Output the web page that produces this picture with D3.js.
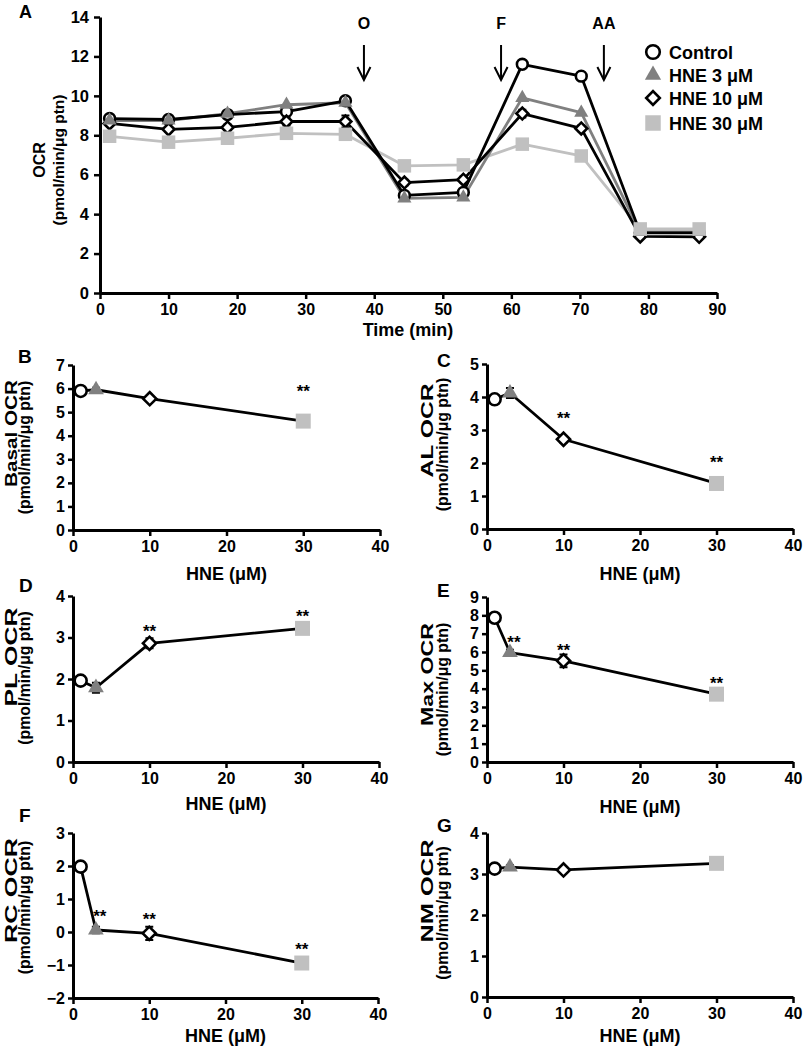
<!DOCTYPE html>
<html><head><meta charset="utf-8">
<script src="https://cdn.jsdelivr.net/npm/d3@7"></script>
<style>body{margin:0;background:#fff}</style>
</head><body>
<script>
// ---------- DATA ----------
const timeMin   = [1.4, 10.0, 18.6, 27.2, 35.8, 44.4, 53.0, 61.6, 70.2, 78.8, 87.4];
const ctrlOCR   = [8.85, 8.8, 9.05, 9.2, 9.75, 4.95, 5.1, 11.6, 11.0, 3.05, 3.05];
const hne3OCR   = [8.75, 8.75, 9.1, 9.55, 9.65, 4.8, 4.85, 9.9, 9.15, 3.1, 3.1];
const hne10OCR  = [8.6, 8.3, 8.4, 8.7, 8.7, 5.6, 5.75, 9.1, 8.35, 2.87, 2.85];
const hne30OCR  = [7.95, 7.65, 7.85, 8.1, 8.05, 6.45, 6.5, 7.55, 6.95, 3.25, 3.25];
const hne10Err  = [0.1, 0.12, 0.15, 0.2, 0.3, 0.15, 0.15, 0.2, 0.15, 0.05, 0.05];
const seriesNames = ["Control", "HNE 3 μM", "HNE 10 μM", "HNE 30 μM"];
const timeTicks = [0, 10, 20, 30, 40, 50, 60, 70, 80, 90];
const ocrTicksA = [0, 2, 4, 6, 8, 10, 12, 14];
const injections = ["O", "F", "AA"];
const injectionTimes = [38.5, 58.5, 73.5];

const doses = [1, 3, 10, 30];
const doseTicks = [0, 10, 20, 30, 40];
const basalOCR = [5.9, 5.95, 5.57, 4.62];
const basalErr = [0.1, 0.08, 0.1, 0.06];
const basalSig = ["", "", "", "**"];
const alOCR = [3.93, 4.12, 2.72, 1.38];
const alErr = [0.08, 0.15, 0.1, 0.08];
const alSig = ["", "", "**", "**"];
const plOCR = [1.96, 1.79, 2.86, 3.22];
const plErr = [0.08, 0.12, 0.12, 0.05];
const plSig = ["", "", "**", "**"];
const maxOCR = [7.87, 5.97, 5.52, 3.7];
const maxErr = [0.2, 0.15, 0.35, 0.15];
const maxSig = ["", "**", "**", "**"];
const rcOCR = [1.98, 0.06, -0.04, -0.94];
const rcErr = [0.15, 0.1, 0.2, 0.12];
const rcSig = ["", "**", "**", "**"];
const nmOCR = [3.13, 3.17, 3.1, 3.26];
const nmErr = [0.08, 0.05, 0.05, 0.05];
const nmSig = ["", "", "", ""];

// ---------- SETUP ----------
const W = 803, H = 1050;
const FONT = "'Liberation Sans', Arial, Helvetica, sans-serif";
const svg = d3.select("body").append("svg")
  .attr("width", W).attr("height", H)
  .style("font-family", FONT).style("font-weight", "bold");

const GRAY = "#808080", LGRAY = "#c0c0c0";
const fmt = d3.format("d");

function styleAxis(g, fs) {
  g.attr("font-family", null).attr("font-size", null);
  g.select(".domain").attr("stroke", "#000").attr("stroke-width", 3);
  g.selectAll(".tick line").attr("stroke", "#000").attr("stroke-width", 2.5);
  g.selectAll(".tick text").attr("fill", "#000")
    .style("font-size", fs + "px").style("font-weight", "bold").style("font-family", FONT);
}

// marker drawer: type 0 circle, 1 triangle, 2 diamond, 3 square
function drawMarker(g, type, x, y, s) {
  if (type === 0) {
    g.append("circle").attr("cx", x).attr("cy", y).attr("r", s * 0.4)
      .attr("fill", "#fff").attr("stroke", "#000").attr("stroke-width", 2.6);
  } else if (type === 1) {
    const w = s * 1.05;
    const area = Math.sqrt(3) / 4 * w * w;
    g.append("path").attr("d", d3.symbol(d3.symbolTriangle, area)())
      .attr("transform", `translate(${x},${y})`).attr("fill", GRAY);
  } else if (type === 2) {
    const side = s * 0.62;
    g.append("path").attr("d", d3.symbol(d3.symbolSquare, side * side)())
      .attr("transform", `translate(${x},${y}) rotate(45)`)
      .attr("fill", "#fff").attr("stroke", "#000").attr("stroke-width", 2.6);
  } else {
    g.append("path").attr("d", d3.symbol(d3.symbolSquare, s * s)())
      .attr("transform", `translate(${x},${y})`).attr("fill", LGRAY);
  }
}

// ---------- PANEL A ----------
(function () {
  const x = d3.scaleLinear().domain([0, 90]).range([100, 717]);
  const y = d3.scaleLinear().domain([0, 14]).range([293, 17]);
  const g = svg.append("g");

  const gx = g.append("g").attr("transform", `translate(0,${y(0)})`)
    .call(d3.axisBottom(x).tickValues(timeTicks).tickFormat(fmt).tickSize(6).tickSizeOuter(0).tickPadding(5));
  styleAxis(gx, 16);
  const gy = g.append("g").attr("transform", `translate(${x(0)},0)`)
    .call(d3.axisLeft(y).tickValues(ocrTicksA).tickFormat(fmt).tickSize(6).tickSizeOuter(0).tickPadding(5));
  styleAxis(gy, 16.5);

  g.append("text").attr("x", 19).attr("y", 18).style("font-size", "18px").text("A");
  g.append("text").attr("x", 408).attr("y", 336).attr("text-anchor", "middle")
    .style("font-size", "18px").text("Time (min)");
  const cy = 160;
  g.append("text").attr("transform", `translate(45,${cy}) rotate(-90)`)
    .attr("text-anchor", "middle").style("font-size", "16px").text("OCR");
  g.append("text").attr("transform", `translate(64,${cy}) rotate(-90)`)
    .attr("text-anchor", "middle").style("font-size", "15.5px").text("(pmol/min/μg ptn)");

  // injection arrows
  injections.forEach((lab, i) => {
    const ax = x(injectionTimes[i]);
    g.append("text").attr("x", ax).attr("y", 29).attr("text-anchor", "middle")
      .style("font-size", "16px").text(lab);
    g.append("line").attr("x1", ax).attr("x2", ax).attr("y1", 45).attr("y2", 80)
      .attr("stroke", "#000").attr("stroke-width", 2);
    g.append("path").attr("d", `M${ax - 6.5},${67}L${ax},${80}L${ax + 6.5},${67}`)
      .attr("fill", "none").attr("stroke", "#000").attr("stroke-width", 2);
  });

  const all = [ctrlOCR, hne3OCR, hne10OCR, hne30OCR];
  const lineCol = ["#000", GRAY, "#000", LGRAY];
  const line = d3.line().x((d, i) => x(timeMin[i])).y(d => y(d));
  hne10OCR.forEach((v, i) => {
    const xx = x(timeMin[i]);
    g.append("path").attr("d",
      `M${xx},${y(v - hne10Err[i])}V${y(v + hne10Err[i])}M${xx - 4},${y(v + hne10Err[i])}h8M${xx - 4},${y(v - hne10Err[i])}h8`)
      .attr("stroke", "#000").attr("stroke-width", 2).attr("fill", "none");
  });
  [3, 1, 2, 0].forEach(k => {
    g.append("path").datum(all[k]).attr("d", line).attr("fill", "none")
      .attr("stroke", lineCol[k]).attr("stroke-width", 2.8).attr("stroke-linejoin", "round");
  });
  [0, 2, 1, 3].forEach(k => {
    all[k].forEach((v, i) => drawMarker(g, k, x(timeMin[i]), y(v), 13.5));
  });

  // legend
  seriesNames.forEach((nm, i) => {
    const ly = [52, 75, 98, 123][i];
    drawMarker(g, i, 653, ly, i === 0 ? 17 : 15.5);
    g.append("text").attr("x", 669).attr("y", ly + 6.5).style("font-size", "18px").text(nm);
  });
})();

// ---------- SMALL PANELS ----------
const panels = [
  {letter: "B", lx: 18, ly: 363, name: "Basal OCR", vals: basalOCR, errs: basalErr, sig: basalSig,
   yd: [0, 7], yt: [0,1,2,3,4,5,6,7], xr: [73, 380], yr: [530, 365], starOff: 34,
   labOff: [-56, -43], nameLen: 107, nameDy: -14, unitDy: 0, hneDy: 50},
  {letter: "C", lx: 437, ly: 367, name: "AL OCR", vals: alOCR, errs: alErr, sig: alSig,
   yd: [0, 5], yt: [0,1,2,3,4,5], xr: [487, 793], yr: [529, 364], starOff: 25,
   labOff: [-54, -39], nameLen: 94, nameDy: -16, unitDy: -2, hneDy: 51},
  {letter: "D", lx: 19, ly: 592, name: "PL OCR", vals: plOCR, errs: plErr, sig: plSig,
   yd: [0, 4], yt: [0,1,2,3,4], xr: [73, 379], yr: [762, 596], starOff: 16,
   labOff: [-56, -43], nameLen: 99, nameDy: -22, unitDy: -1, hneDy: 48},
  {letter: "E", lx: 437, ly: 597, name: "Max OCR", vals: maxOCR, errs: maxErr, sig: maxSig,
   yd: [0, 9], yt: [0,1,2,3,4,5,6,7,8,9], xr: [487, 793], yr: [762, 597], starOff: 15,
   labOff: [-54, -39], nameLen: 103, nameDy: -5, unitDy: 10, hneDy: 51},
  {letter: "F", lx: 19, ly: 822, name: "RC OCR", vals: rcOCR, errs: rcErr, sig: rcSig,
   yd: [-2, 3], yt: [-2,-1,0,1,2,3], xr: [73, 378], yr: [998, 833], starOff: 18,
   labOff: [-56, -43], nameLen: 105, nameDy: -25, unitDy: -8, hneDy: 44},
  {letter: "G", lx: 437, ly: 832, name: "NM OCR", vals: nmOCR, errs: nmErr, sig: nmSig,
   yd: [0, 4], yt: [0,1,2,3,4], xr: [487, 793], yr: [997, 833], starOff: 16,
   labOff: [-54, -39], nameLen: 103, nameDy: -24, unitDy: -2, hneDy: 45}
];

panels.forEach(p => {
  const x = d3.scaleLinear().domain([0, 40]).range(p.xr);
  const y = d3.scaleLinear().domain(p.yd).range(p.yr);
  const g = svg.append("g");
  const gx = g.append("g").attr("transform", `translate(0,${p.yr[0]})`)
    .call(d3.axisBottom(x).tickValues(doseTicks).tickFormat(fmt).tickSize(6).tickSizeOuter(0).tickPadding(5));
  styleAxis(gx, 16);
  const gy = g.append("g").attr("transform", `translate(${p.xr[0]},0)`)
    .call(d3.axisLeft(y).tickValues(p.yt).tickFormat(fmt).tickSize(5).tickSizeOuter(0).tickPadding(3));
  styleAxis(gy, 16);

  g.append("text").attr("x", p.lx).attr("y", p.ly).style("font-size", "19px").text(p.letter);
  const cx = (p.xr[0] + p.xr[1]) / 2;
  g.append("text").attr("x", cx).attr("y", p.yr[0] + p.hneDy).attr("text-anchor", "middle")
    .style("font-size", "18px").text("HNE (μM)");
  const cy = (p.yr[0] + p.yr[1]) / 2;
  g.append("text").attr("transform", `translate(${p.xr[0] + p.labOff[0]},${cy + p.nameDy}) rotate(-90)`)
    .attr("text-anchor", "middle").style("font-size", "16.5px")
    .attr("textLength", p.nameLen).attr("lengthAdjust", "spacingAndGlyphs").text(p.name);
  g.append("text").attr("transform", `translate(${p.xr[0] + p.labOff[1]},${cy + p.unitDy}) rotate(-90)`)
    .attr("text-anchor", "middle").style("font-size", "15.8px").text("(pmol/min/μg ptn)");

  // error bars
  p.vals.forEach((v, i) => {
    const xx = x(doses[i]);
    const lo = y(v - p.errs[i]), hi = y(v + p.errs[i]);
    g.append("path").attr("d", `M${xx},${lo}V${hi}M${xx - 4},${hi}h8M${xx - 4},${lo}h8`)
      .attr("stroke", "#000").attr("stroke-width", 2).attr("fill", "none");
  });
  const line = d3.line().x((d, i) => x(doses[i])).y(d => y(d));
  g.append("path").datum(p.vals).attr("d", line).attr("fill", "none")
    .attr("stroke", "#000").attr("stroke-width", 2.8).attr("stroke-linejoin", "round");
  p.vals.forEach((v, i) => drawMarker(g, i, x(doses[i]), y(v), 15));
  p.sig.forEach((s, i) => {
    if (!s) return;
    g.append("text").attr("x", x(doses[i]) + (i === 1 ? 4 : 0)).attr("y", y(p.vals[i]) - p.starOff + 10)
      .attr("text-anchor", "middle").style("font-size", "17px").text(s);
  });
});
</script>
</body></html>
